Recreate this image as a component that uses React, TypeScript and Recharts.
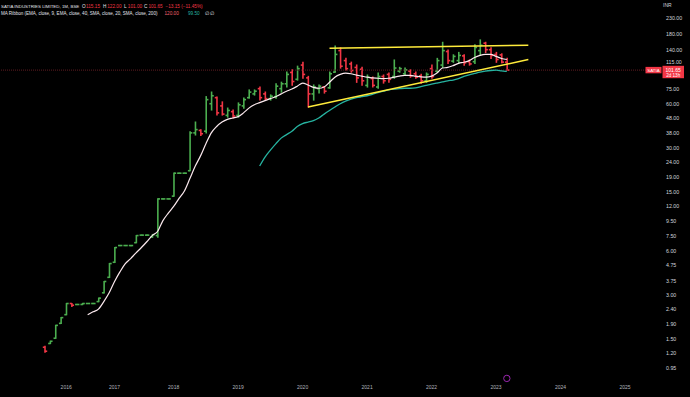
import { Bar, ComposedChart, Line, ReferenceDot, ReferenceLine, XAxis, YAxis } from "recharts";

// monthly bars (illiquid early years have gaps, so not every month is present)
const MONTHS = [
  "2015-09", "2015-10", "2015-11", "2015-12",
  "2016-01", "2016-02", "2016-03", "2016-05", "2016-06", "2016-08", "2016-09", "2016-11", "2016-12",
  "2017-01", "2017-02", "2017-03", "2017-04", "2017-05", "2017-06", "2017-08", "2017-09", "2017-10", "2017-11", "2017-12",
  "2018-01", "2018-02", "2018-03", "2018-04", "2018-05", "2018-06", "2018-07", "2018-08", "2018-09", "2018-10", "2018-11", "2018-12",
  "2019-01", "2019-02", "2019-03", "2019-04", "2019-05", "2019-06", "2019-07", "2019-08", "2019-09", "2019-10", "2019-11", "2019-12",
  "2020-01", "2020-02", "2020-03", "2020-04", "2020-05", "2020-06", "2020-07", "2020-08", "2020-09", "2020-10", "2020-11", "2020-12",
  "2021-01", "2021-02", "2021-03", "2021-04", "2021-05", "2021-06", "2021-07", "2021-08", "2021-09", "2021-10", "2021-11", "2021-12",
  "2022-01", "2022-02", "2022-03", "2022-04", "2022-05", "2022-06", "2022-07", "2022-08", "2022-09", "2022-10", "2022-11", "2022-12",
  "2023-01", "2023-02", "2023-03",
];

const OPEN = [
  1.32, 1.4, 1.52, 1.92,
  2.2, 2.62, 2.58, 2.58, 2.62, 2.62, 2.7, 3.1, 3.95,
  5.0, 6.5, 6.5, 6.5, 6.8, 7.65, 7.65, 7.45, 7.6, 13.5, 13.5,
  14.1, 20.2, 20.2, 21, 38, 39.5, 39, 60, 66, 58, 50, 53,
  50, 58, 66, 70, 76, 70, 65, 67, 76, 82, 98, 88,
  110, 90, 70, 76, 78, 77, 98.5, 138, 118, 112, 106, 103,
  80, 89, 78, 92, 95, 92, 100, 96, 100, 96, 93, 86,
  104, 100, 110, 136, 117, 118, 127, 116, 116, 138, 155, 140,
  130, 129, 115.15,
];

const HIGH = [
  1.34, 1.45, 1.86, 2.1,
  2.62, 2.62, 2.58, 2.62, 2.62, 2.62, 2.85, 3.7, 4.9,
  6.3, 6.5, 6.5, 6.5, 7.6, 7.65, 7.65, 7.7, 13.5, 13.5, 13.5,
  20.2, 20.2, 20.2, 38.6, 45, 39.8, 67, 72, 66.7, 61.7, 56, 54.4,
  60.7, 65.6, 74.4, 74.4, 78, 72, 68.8, 82, 84, 98.5, 102, 108,
  115, 92, 80.4, 80.4, 78, 98.5, 148, 144, 122, 115, 110, 106,
  94, 91, 97, 94, 97, 119, 106, 105, 102, 98.5, 95, 97,
  110, 122, 157, 139, 129, 134, 129, 119, 151, 163, 157, 144,
  134, 131, 122,
];

const LOW = [
  1.22, 1.4, 1.52, 1.92,
  2.2, 2.5, 2.58, 2.58, 2.62, 2.62, 2.7, 3.1, 3.95,
  5.0, 6.5, 6.5, 6.5, 6.8, 7.65, 7.65, 7.4, 7.4, 13.5, 13.5,
  14.1, 20.2, 20.2, 21, 36.8, 36.5, 38, 54.4, 50.3, 50.3, 48.7, 48,
  48.7, 56, 65.6, 68.8, 63.6, 63.6, 63.6, 65.6, 72, 78, 80.4, 87,
  89.5, 57, 63.6, 71, 71, 76.6, 98.5, 105, 102, 98.5, 84, 80.4,
  78, 78, 76.6, 83, 84, 89.5, 98.5, 94, 91, 89.5, 83, 84,
  89.5, 98.5, 106, 113, 115, 113, 110, 110, 113, 129, 134, 122,
  115, 114, 101,
];

const CLOSE = [
  1.24, 1.45, 1.86, 2.1,
  2.62, 2.55, 2.58, 2.62, 2.62, 2.62, 2.85, 3.7, 4.9,
  6.3, 6.5, 6.5, 6.5, 7.6, 7.65, 7.65, 7.7, 13.5, 13.5, 13.5,
  20.2, 20.2, 20.2, 38, 40, 37.5, 64, 68, 52, 51, 54, 49.5,
  59, 64, 72, 73, 66, 65, 67.5, 79, 82, 95, 85, 104,
  95, 70, 78, 79, 73, 96, 130, 108, 104, 101, 90, 86,
  91, 80, 92, 86, 88, 105, 104, 102, 93, 91, 86, 95,
  92, 118, 138, 118, 126, 128, 114, 112, 145, 150, 140, 128,
  120, 115.15, 101.65,
];

// MA ribbon: EMA 9 (white) and EMA 40 (teal)
const EMA_FAST = [
  null, null, null, null,
  null, null, null, null, 2.2, 2.3, 2.4, 2.7, 3.1,
  3.7, 4.3, 4.9, 5.3, 5.8, 6.3, 6.9, 7.6, 8.1, 9.6, 10.8,
  12, 13.6, 15.3, 18.5, 22.5, 26.5, 32, 38, 42, 45, 47, 48,
  49, 52, 56, 59, 61, 63, 65, 67, 70, 73, 75.5, 79,
  83, 80.5, 77.5, 76.5, 78, 84, 91, 95, 97, 96, 94, 92.5,
  91, 90, 89.5, 89, 89.5, 91, 92.5, 93.5, 93.5, 92.5, 91.5, 91,
  92.5, 97, 105, 106, 109, 113, 115, 118, 124, 128, 130, 130,
  126, 122, 120,
];

const EMA_SLOW = [
  null, null, null, null,
  null, null, null, null, null, null, null, null, null,
  null, null, null, null, null, null, null, null, null, null, null,
  null, null, null, null, null, null, null, null, null, null, null, null,
  null, null, null, null, 22.6, 26, 29, 32, 35, 37, 39, 42,
  44, 45, 46, 48, 51, 54, 57, 60, 62.5, 64.5, 66, 67,
  68, 69.5, 71.5, 73, 74.5, 75.5, 76, 76.5, 76.5, 77, 78.5, 80,
  81.5, 83, 84.5, 86, 87, 89, 92, 94.5, 96.5, 98.5, 100, 101,
  101.5, 100.5, 99.5,
];

// empty months to the right of the last bar
const FUTURE_MONTHS = [
  "2023-04", "2023-05", "2023-06", "2023-07", "2023-08", "2023-09", "2023-10", "2023-11", "2023-12",
  "2024-01", "2024-02", "2024-03", "2024-04", "2024-05", "2024-06", "2024-07", "2024-08", "2024-09",
  "2024-10", "2024-11", "2024-12", "2025-01", "2025-02", "2025-03", "2025-04", "2025-05", "2025-06", "2025-07",
];

const PRICE_TICKS = [0.95, 1.2, 1.5, 1.9, 2.4, 3, 3.75, 4.75, 6, 7.5, 9.5, 12, 15, 19, 24, 30, 38, 48, 60, 75, 115, 140, 180, 230];
const YEAR_TICKS = ["2016-01", "2017-01", "2018-01", "2019-01", "2020-01", "2021-01", "2022-01", "2023-01", "2024-01", "2025-01"];

// hand-drawn trend lines
const TOP_TREND = [{ x: "2020-06", y: 143 }, { x: "2023-07", y: 150 }];
const LOW_TREND = [{ x: "2020-02", y: 57 }, { x: "2023-07", y: 120 }];

const LAST_PRICE = 101.65;

const GREEN = "#4caf50";
const RED = "#f23645";
const FONT = "'Liberation Sans', Arial, sans-serif";

const data = [
  ...MONTHS.map((month, i) => ({
    month,
    range: [LOW[i], HIGH[i]],
    open: OPEN[i],
    high: HIGH[i],
    low: LOW[i],
    close: CLOSE[i],
    fast: EMA_FAST[i],
    slow: EMA_SLOW[i],
  })),
  ...FUTURE_MONTHS.map((month) => ({ month })),
];

function OhlcShape(props: any) {
  const { x, y, width, height, payload } = props;
  if (!payload || payload.open == null || !isFinite(y)) return null;
  const cx = x + width / 2;
  const yTop = Math.min(y, y + height);
  const yBot = Math.max(y, y + height);
  const span = Math.log(payload.high) - Math.log(payload.low);
  const at = (v: number) => (span > 0 ? yTop + ((yBot - yTop) * (Math.log(payload.high) - Math.log(v))) / span : yTop);
  const color = payload.close >= payload.open ? GREEN : RED;
  const t = 2.2;
  return (
    <g stroke={color} strokeWidth={1.6}>
      <line x1={cx} x2={cx} y1={yTop - 0.6} y2={yBot + 0.6} />
      <line x1={cx - t} x2={cx} y1={at(payload.open)} y2={at(payload.open)} />
      <line x1={cx} x2={cx + t} y1={at(payload.close)} y2={at(payload.close)} />
    </g>
  );
}

function PriceTag(props: any) {
  const vb = props.viewBox || {};
  const yy = vb.y;
  const right = vb.x + vb.width;
  return (
    <g fontFamily={FONT}>
      <rect x={right - 14.5} y={yy - 3.2} width={16} height={6.4} fill={RED} />
      <rect x={right + 2.5} y={yy - 4.3} width={21.5} height={12.4} fill={RED} />
      <text fill="#fff" fontSize={4.4} textAnchor="middle">
        <tspan x={right - 6.5} y={yy + 1.7}>SATIA</tspan>
      </text>
      <text fill="#fff" fontSize={5} textAnchor="middle">
        <tspan x={right + 13.2} y={yy + 1.4}>101.65</tspan>
        <tspan x={right + 13.2} y={yy + 6.8} fontSize={4.6}>2d 13h</tspan>
      </text>
    </g>
  );
}

function Header() {
  const w = "#e0e3eb";
  return (
    <svg width={690} height={24} style={{ position: "absolute", left: 0, top: 0, pointerEvents: "none" }}>
      <text fontFamily={FONT} fontSize={4.7} y={7.5} fill={w}>
        <tspan x={1} fontSize={4.4}>SATIA INDUSTRIES LIMITED, 1M, BSE</tspan>
        <tspan x={82}>O</tspan>
        <tspan x={86} fill={RED}>115.15</tspan>
        <tspan x={103}>H</tspan>
        <tspan x={107.2} fill={RED}>122.00</tspan>
        <tspan x={124}>L</tspan>
        <tspan x={127.8} fill={RED}>101.00</tspan>
        <tspan x={144}>C</tspan>
        <tspan x={148.4} fill={RED}>101.65</tspan>
        <tspan x={165.5} fill={RED}>−13.15 (−11.45%)</tspan>
      </text>
      <text fontFamily={FONT} fontSize={4.7} y={15} fill={w}>
        <tspan x={1} fontSize={4.55}>MA Ribbon (EMA, close, 9, EMA, close, 40, SMA, close, 20, SMA, close, 200)</tspan>
        <tspan x={164.5} fill="#f0606e">120.00</tspan>
        <tspan x={188} fill="#26b3a0">99.50</tspan>
        <tspan x={205}>∅</tspan>
        <tspan x={210}>∅</tspan>
      </text>
    </svg>
  );
}

export default function App() {
  return (
    <div style={{ position: "fixed", left: 0, top: 0, width: 690, height: 397, background: "#000" }}>
      <ComposedChart width={690} height={397} data={data} margin={{ top: 0, right: 0, bottom: 0, left: 0 }}>
        <XAxis
          dataKey="month"
          ticks={YEAR_TICKS}
          interval={0}
          tickFormatter={(v: string) => v.slice(0, 4)}
          axisLine={false}
          tickLine={false}
          tickSize={0}
          tickMargin={5}
          height={17}
          padding={{ left: 42, right: 0 }}
          tick={{ fill: "#b2b5be", fontSize: 5, fontFamily: FONT }}
        />
        <YAxis
          orientation="right"
          width={30}
          scale="log"
          domain={[0.79, 305]}
          allowDataOverflow
          ticks={PRICE_TICKS}
          interval={0}
          tickFormatter={(v: number) => v.toFixed(2)}
          axisLine={false}
          tickLine={false}
          tickSize={0}
          tickMargin={6}
          tick={{ fill: "#d1d4dc", fontSize: 5.3, fontFamily: FONT, textAnchor: "start" }}
          label={{ value: "INR", position: "insideTopLeft", offset: 3, fill: "#d1d4dc", fontSize: 5, fontFamily: FONT }}
        />
        <ReferenceLine y={LAST_PRICE} stroke="#5e1b21" strokeWidth={1} strokeDasharray="1 1" label={PriceTag} />
        <Line dataKey="slow" type="monotone" stroke="#26b3a0" strokeWidth={1.3} dot={false} isAnimationActive={false} />
        <Line dataKey="fast" type="monotone" stroke="#fbe9ee" strokeWidth={1.2} dot={false} isAnimationActive={false} />
        <Bar dataKey="range" barSize={4} isAnimationActive={false} shape={(p: any) => <OhlcShape {...p} />} />
        <ReferenceLine segment={TOP_TREND} stroke="#ffeb3b" strokeWidth={1.5} ifOverflow="visible" />
        <ReferenceLine segment={LOW_TREND} stroke="#ffeb3b" strokeWidth={1.5} ifOverflow="visible" />
        <ReferenceDot x="2023-03" y={0.81} r={3.2} fill="none" stroke="#9c27b0" strokeWidth={1} ifOverflow="visible" />
      </ComposedChart>
      <Header />
    </div>
  );
}
